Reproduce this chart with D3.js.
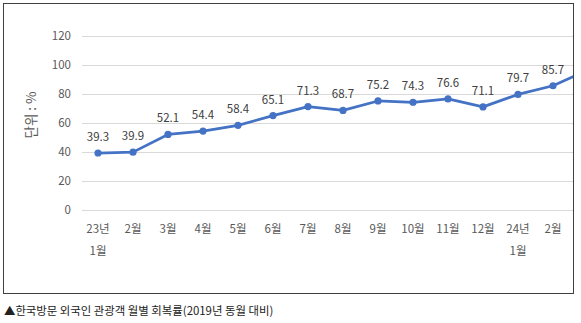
<!DOCTYPE html>
<html><head><meta charset="utf-8">
<script src="https://cdn.jsdelivr.net/npm/d3@7"></script>
<style>
body{margin:0;background:#fff;}
svg{display:block;}
</style></head>
<body>
<svg id="c" width="581" height="323"></svg>
<script>
const months = ["23년\n1월","2월","3월","4월","5월","6월","7월","8월","9월","10월","11월","12월","24년\n1월","2월","3월"];
const values = [39.3,39.9,52.1,54.4,58.4,65.1,71.3,68.7,75.2,74.3,76.6,71.1,79.7,85.7,96.5];
const yTicks = [0,20,40,60,80,100,120];
const yTitle = "단위 : %";
const caption = "▲한국방문 외국인 관광객 월별 회복률(2019년 동월 대비)";

const svg = d3.select("#c");
const font = "'Noto Sans CJK KR','Noto Sans',sans-serif";
const box = {x0:3.5, y0:3.5, x1:573.5, y1:293.5};

const x = d3.scalePoint().domain(d3.range(months.length)).range([98, 588]);
const y = d3.scaleLinear().domain([0,120]).range([210, 36]);
const inside = i => x(i) < box.x1;

const defs = svg.append("defs");
defs.append("clipPath").attr("id","clip").append("rect")
  .attr("x",box.x0).attr("y",box.y0).attr("width",box.x1-box.x0).attr("height",box.y1-box.y0);

const g = svg.append("g").attr("clip-path","url(#clip)");

// gridlines
g.append("g").selectAll("line").data(yTicks).join("line")
  .attr("x1",82).attr("x2",box.x1)
  .attr("y1",d=>Math.round(y(d))+0.5).attr("y2",d=>Math.round(y(d))+0.5)
  .attr("stroke","#d9d9d9").attr("stroke-width",1);

// y tick labels via axis
const yAxis = g.append("g").attr("transform","translate(71,0)")
  .call(d3.axisLeft(y).tickValues(yTicks).tickSize(0).tickPadding(0));
yAxis.select(".domain").remove();
yAxis.selectAll("text").attr("fill","#595959").style("font-family",font).style("font-size","11.5px");

// x labels (only those inside the frame)
const xl = g.append("g").selectAll("text").data(months.filter((d,i)=>inside(i))).join("text")
  .attr("text-anchor","middle")
  .attr("fill","#595959").style("font-family",font).style("font-size","11.5px");
xl.each(function(d,i){
  const t=d3.select(this);
  d.split("\n").forEach((s,j)=>{
    t.append("tspan").attr("x",x(i)).attr("y",233+j*22).text(s);
  });
});

// line
const line = d3.line().x((d,i)=>x(i)).y(d=>y(d));
g.append("path").datum(values).attr("d",line)
  .attr("fill","none").attr("stroke","#4472c4").attr("stroke-width",2.75).attr("stroke-linejoin","round");

g.append("g").selectAll("circle").data(values).join("circle")
  .attr("cx",(d,i)=>x(i)).attr("cy",d=>y(d)).attr("r",3.6).attr("fill","#4472c4");

// data labels
g.append("g").selectAll("text").data(values.filter((d,i)=>inside(i))).join("text")
  .attr("x",(d,i)=>x(i)).attr("y",d=>y(d)-12)
  .attr("text-anchor","middle").attr("fill","#404040")
  .style("font-family",font).style("font-size","11.5px")
  .text(d=>d.toFixed(1));

// y title
svg.append("text").attr("transform","translate(36,115) rotate(-90)")
  .attr("text-anchor","middle").attr("fill","#595959")
  .style("font-family",font).style("font-size","13.5px").text(yTitle);

// border
svg.append("rect").attr("x",box.x0).attr("y",box.y0)
  .attr("width",box.x1-box.x0).attr("height",box.y1-box.y0)
  .attr("fill","none").attr("stroke","#404040").attr("stroke-width",1);

// caption
svg.append("text").attr("x",4).attr("y",315).attr("fill","#222")
  .style("font-family","'Noto Sans CJK KR',sans-serif").style("font-size","11.4px").text(caption);
</script>
</body></html>
